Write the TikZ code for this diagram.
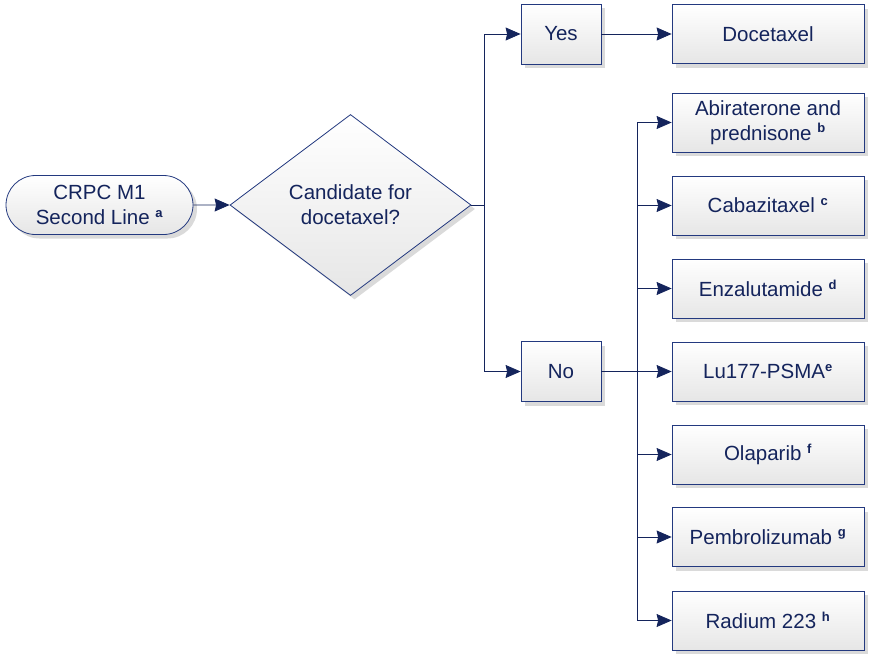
\documentclass[tikz,border=0pt]{standalone}
\usepackage{fontspec}
\setmainfont{Liberation Sans}
\usetikzlibrary{shapes.geometric,shapes.misc,arrows.meta,shadows,positioning}
\definecolor{navy}{HTML}{14245C}
\definecolor{bord}{HTML}{23397F}
\definecolor{fillbot}{HTML}{E6E6E6}
\newcommand{\sups}[1]{\textsuperscript{\fontsize{13}{13}\selectfont\bfseries #1}}
\tikzset{
  base/.style={draw=bord, line width=0.8pt, text=navy, align=center,
    top color=white, bottom color=fillbot, inner sep=2pt,
    font=\fontsize{20.5}{25}\selectfont,
    drop shadow={shadow xshift=4pt, shadow yshift=-4pt, fill=black!18, opacity=0.8}},
  smallbox/.style={base, rectangle, minimum width=80pt, minimum height=60pt},
  drugbox/.style={base, rectangle, minimum width=192pt, minimum height=59pt},
  termbox/.style={base, rounded rectangle, minimum width=191pt, minimum height=59pt},
  decbox/.style={base, diamond, minimum width=241pt, minimum height=181pt, aspect=1.33, inner sep=0pt},
  conn/.style={draw=navy, line width=0.8pt, -{Stealth[inset=1.5pt,length=15pt,width=13pt]}},
  line/.style={draw=navy, line width=0.8pt}
}
\begin{document}
\begin{tikzpicture}[x=1pt,y=-1pt]
\useasboundingbox (0,0) rectangle (872,656);
\node[termbox] (start) at (99.5,205) {CRPC M1\\Second Line \sups{a}};
\node[decbox] (dec) at (350.5,205) {Candidate for\\docetaxel?};
\node[smallbox] (yes) at (561,34) {Yes};
\node[smallbox] (no) at (561,371.5) {No};
\node[drugbox] (doce) at (768,34) {Docetaxel};
\node[drugbox] (abi) at (768,122.5) {Abiraterone and\\prednisone \sups{b}};
\node[drugbox] (caba) at (768,205.5) {Cabazitaxel \sups{c}};
\node[drugbox] (enza) at (768,288.5) {Enzalutamide \sups{d}};
\node[drugbox] (lu) at (768,371.5) {Lu177-PSMA\sups{e}};
\node[drugbox] (ola) at (768,454.5) {Olaparib \sups{f}};
\node[drugbox] (pem) at (768,537) {Pembrolizumab \sups{g}};
\node[drugbox] (rad) at (768,620.5) {Radium 223 \sups{h}};
\coordinate (trunk) at (484.5,205);
\coordinate (branch) at (637,371.5);
\draw[conn] (start) -- (dec);
\draw[line] (dec.east) -- (trunk);
\draw[conn] (trunk) |- (yes.west);
\draw[conn] (trunk) |- (no.west);
\draw[conn] (yes) -- (doce);
\draw[line] (no.east) -- (branch);
\foreach \n in {abi,caba,enza,lu,ola,pem,rad}{
  \draw[conn] (branch) |- (\n.west);
}
\end{tikzpicture}
\end{document}
